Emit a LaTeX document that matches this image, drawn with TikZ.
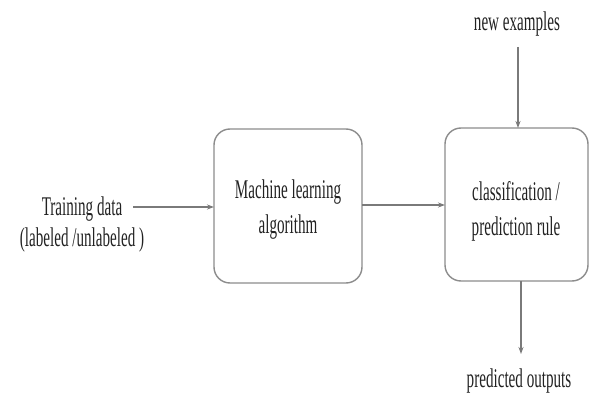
\documentclass[tikz,border=0pt]{standalone}
\usepackage{fontspec}
\setmainfont[FakeStretch=0.56]{Liberation Serif}
\usetikzlibrary{arrows.meta}
\definecolor{linegray}{HTML}{7A7A7A}
\definecolor{boxgray}{HTML}{8C8C8C}
\definecolor{textgray}{HTML}{222222}
\begin{document}
\begin{tikzpicture}[x=1pt,y=-1pt,
  lbl/.style={inner sep=0pt,align=center,text=textgray,font=\fontsize{27}{31}\selectfont},
  boxlbl/.style={lbl,font=\fontsize{27}{35}\selectfont},
  procbox/.style={draw=boxgray,line width=1.4pt,rounded corners=16pt,fill=white},
  flow/.style={draw=linegray,line width=1.1pt,-{Stealth[length=7pt,width=5pt]}}]
  \useasboundingbox (0,0) rectangle (590,396);

  % processing boxes
  \path[procbox] (214,129) rectangle (362,283);
  \coordinate (algW) at (214,207);
  \coordinate (algE) at (362,205);
  \path[procbox] (445,128) rectangle (588,281);
  \coordinate (ruleW) at (445,205);
  \coordinate (ruleN) at (518,128);
  \coordinate (ruleS) at (521,281);

  % texts
  \node[lbl] (train) at (82,225) {Training data\\(labeled /unlabeled )};
  \node[boxlbl] (algtext) at (288,210) {Machine learning\\algorithm};
  \node[boxlbl] (ruletext) at (516,211) {classification /\\prediction rule};
  \node[lbl] (newex) at (517,24) {new examples};
  \node[lbl] (pred) at (519,381) {predicted outputs};

  % connectors
  \coordinate (trainE) at (133,207);
  \coordinate (newexS) at (518,47);
  \coordinate (predN) at (521,354);
  \draw[flow] (trainE) -- (algW);
  \draw[flow] (algE) -- (ruleW);
  \draw[flow] (newexS) -- (ruleN);
  \draw[flow] (ruleS) -- (predN);
\end{tikzpicture}
\end{document}
